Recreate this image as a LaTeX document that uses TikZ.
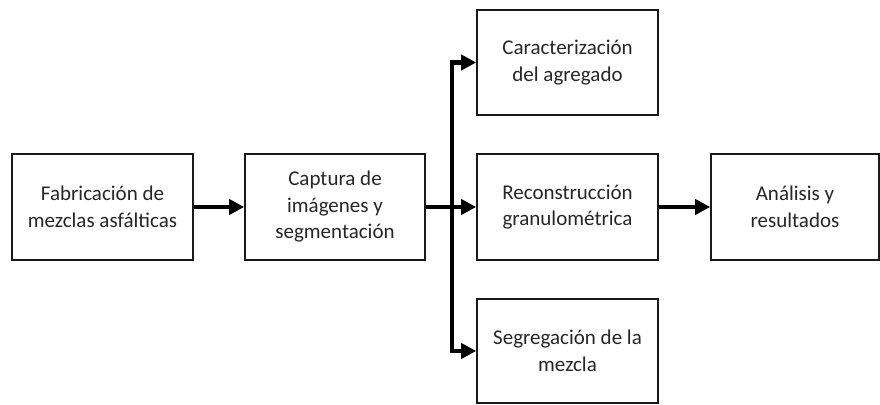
\documentclass[tikz,border=0pt]{standalone}
\usepackage{fontspec}
\setmainfont{Carlito}
\usetikzlibrary{arrows.meta}
\begin{document}
\begin{tikzpicture}[x=1pt,y=-1pt,
  box/.style={draw=black!90, line width=1.6pt, align=center,
    font=\fontsize{21}{26.5}\selectfont, text=black!85, inner sep=0pt,
    minimum width=181pt, minimum height=106pt},
  flow/.style={line width=4.6pt, -{Triangle[length=15pt,width=15pt]}, line join=miter}]
\useasboundingbox (0,0) rectangle (880,404);
\node[box] (b1) at (102.5,207) {Fabricación de\\mezclas asfálticas};
\node[box, minimum width=180pt] (b2) at (335,207) {Captura de\\imágenes y\\segmentación};
\node[box, minimum height=105pt] (b3) at (567.5,62.5) {Caracterización\\del agregado};
\node[box] (b4) at (567.5,207) {Reconstrucción\\granulométrica};
\node[box, minimum height=104pt] (b5) at (567.5,351) {Segregación de la\\mezcla};
\node[box, minimum width=168pt] (b6) at (795,207) {Análisis y\\resultados};
\coordinate (j) at (452,207);
\draw[flow] (b1.east) -- (b2.west);
\draw[flow] (b2.east) -- (b4.west);
\draw[flow] (j) |- (b3.west);
\draw[flow] (j) |- (b5.west);
\draw[flow] (b4.east) -- (b6.west);
\end{tikzpicture}
\end{document}
